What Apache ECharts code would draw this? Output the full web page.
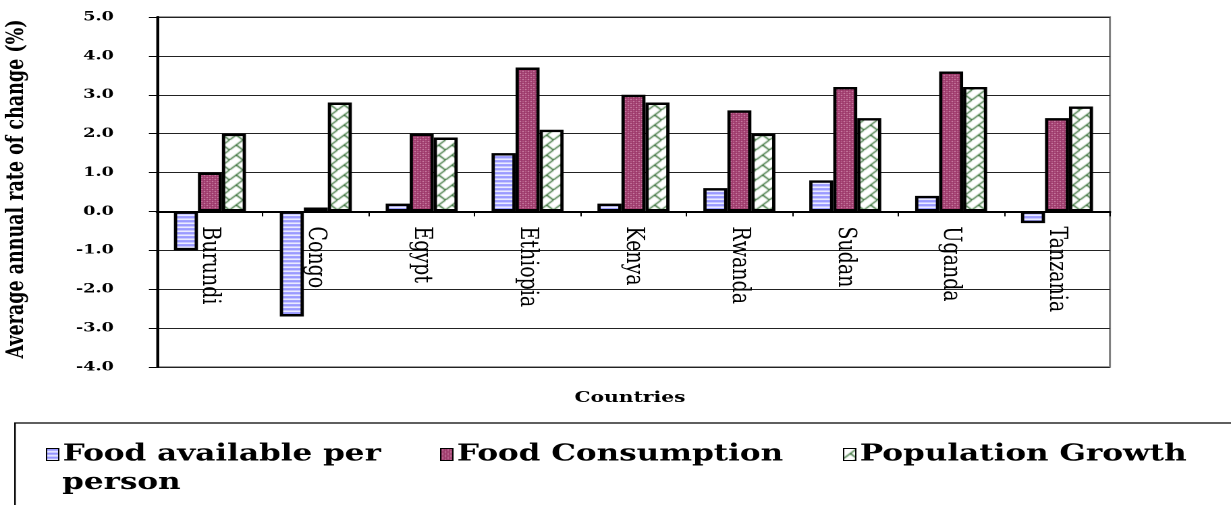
<!DOCTYPE html>
<html><head><meta charset="utf-8">
<script src="https://cdn.jsdelivr.net/npm/echarts@6/dist/echarts.min.js"></script>
<style>html,body{margin:0;padding:0;background:#fff;overflow:hidden;width:1231px;height:505px}
#c{width:912px;height:505px;transform:scaleX(1.3498);transform-origin:0 0}</style>
</head><body><div id="c"></div>
<script>
const categories = ['Burundi','Congo','Egypt','Ethiopia','Kenya','Rwanda','Sudan','Uganda','Tanzania'];
const foodAvailable = [-1.0,-2.7,0.2,1.5,0.2,0.6,0.8,0.4,-0.3];
const foodConsumption = [1.0,0.1,2.0,3.7,3.0,2.6,3.2,3.6,2.4];
const populationGrowth = [2.0,2.8,1.9,2.1,2.8,2.0,2.4,3.2,2.7];
const seriesNames = ['Food available per person','Food Consumption','Population Growth'];
const yTicks = {min:-4, max:5, step:1};

function mk(w,h,draw){const c=document.createElement('canvas');c.width=w;c.height=h;const g=c.getContext('2d');draw(g);return c;}
const blueP = mk(4,4,g=>{g.fillStyle='#fff';g.fillRect(0,0,4,4);g.fillStyle='#9494ff';g.fillRect(0,0,4,2);g.fillStyle='#c8c8ff';g.fillRect(0,2,4,1);});
const redP = mk(4,4,g=>{g.fillStyle='#993366';g.fillRect(0,0,4,4);g.fillStyle='#eab0cc';g.fillRect(1,1,1,1);g.fillRect(3,3,1,1);g.fillStyle='#c27898';g.fillRect(3,1,1,1);g.fillRect(1,3,1,1);});
const greenP = mk(10,10,g=>{g.fillStyle='#fff';g.fillRect(0,0,10,10);g.strokeStyle='#2f6b2f';g.lineWidth=1.1;
  g.beginPath();g.moveTo(0,10);g.lineTo(10,0);g.stroke();
  g.beginPath();g.moveTo(5,5);g.lineTo(10,10);g.stroke();});

const fills=[{image:blueP,repeat:'repeat'},{image:redP,repeat:'repeat'},{image:greenP,repeat:'repeat'}];
const datas=[foodAvailable,foodConsumption,populationGrowth];
const serif='"DejaVu Serif", "Liberation Serif", serif';

const chart = echarts.init(document.getElementById('c'), null, {devicePixelRatio:2});
const legendLeft=[34,326,624.5];
const legendLabel=['Food available per','Food Consumption','Population Growth'];
chart.setOption({
  animation:false,
  backgroundColor:'#fff',
  grid:{left:116.3,right:89.7,top:17,bottom:138,show:true,borderColor:'#808080',borderWidth:1.5,backgroundColor:'transparent'},
  xAxis:{type:'category',data:categories,position:'bottom',offset:-155.6,
    axisLine:{onZero:false,lineStyle:{color:'#000',width:2}},
    axisTick:{show:true,alignWithLabel:false,length:5,lineStyle:{color:'#000',width:1}},
    axisLabel:{rotate:-90,margin:15,color:'#000',fontFamily:serif,fontSize:19,interval:0}
  },
  yAxis:{type:'value',min:yTicks.min,max:yTicks.max,interval:yTicks.step,
    axisLine:{show:true,lineStyle:{color:'#000',width:2}},
    axisTick:{show:true,length:6,lineStyle:{color:'#000'}},
    axisLabel:{formatter:v=>v.toFixed(1),color:'#000',fontFamily:serif,fontWeight:'bold',fontSize:13,margin:32},
    splitLine:{lineStyle:{color:'#222',width:1}}
  },
  legend:seriesNames.map((n,i)=>({data:[n],left:legendLeft[i],top:440,itemWidth:9,itemHeight:12,itemGap:3,
    formatter:()=>legendLabel[i],
    textStyle:{color:'#000',fontFamily:serif,fontWeight:'bold',fontSize:23,lineHeight:29,padding:[0,0,0,-2]},
    itemStyle:{borderColor:'#000',borderWidth:1},icon:'rect',selectedMode:false,align:'left',padding:0})),
  series:datas.map((d,i)=>({name:seriesNames[i],type:'bar',data:d,barGap:'0%',barCategoryGap:'32%',
    itemStyle:{color:fills[i],borderColor:'#000',borderWidth:2.4}})),
  graphic:[
    {type:'rect',shape:{x:11.1,y:423,width:1000,height:120},style:{fill:'none',stroke:'#000',lineWidth:1.2},silent:true,z:-1},
    {type:'text',x:466.7,y:398,style:{text:'Countries',align:'center',verticalAlign:'middle',fill:'#000',font:'bold 15px '+serif}},
    {type:'text',x:46,y:483,style:{text:'person',align:'left',verticalAlign:'middle',fill:'#000',font:'bold 23px '+serif}},
    {type:'text',x:12.6,y:189,rotation:Math.PI/2,style:{text:'Average annual rate of change (%)',align:'center',verticalAlign:'middle',fill:'#000',font:'bold 17.5px '+serif}}
  ]
});
</script></body></html>
